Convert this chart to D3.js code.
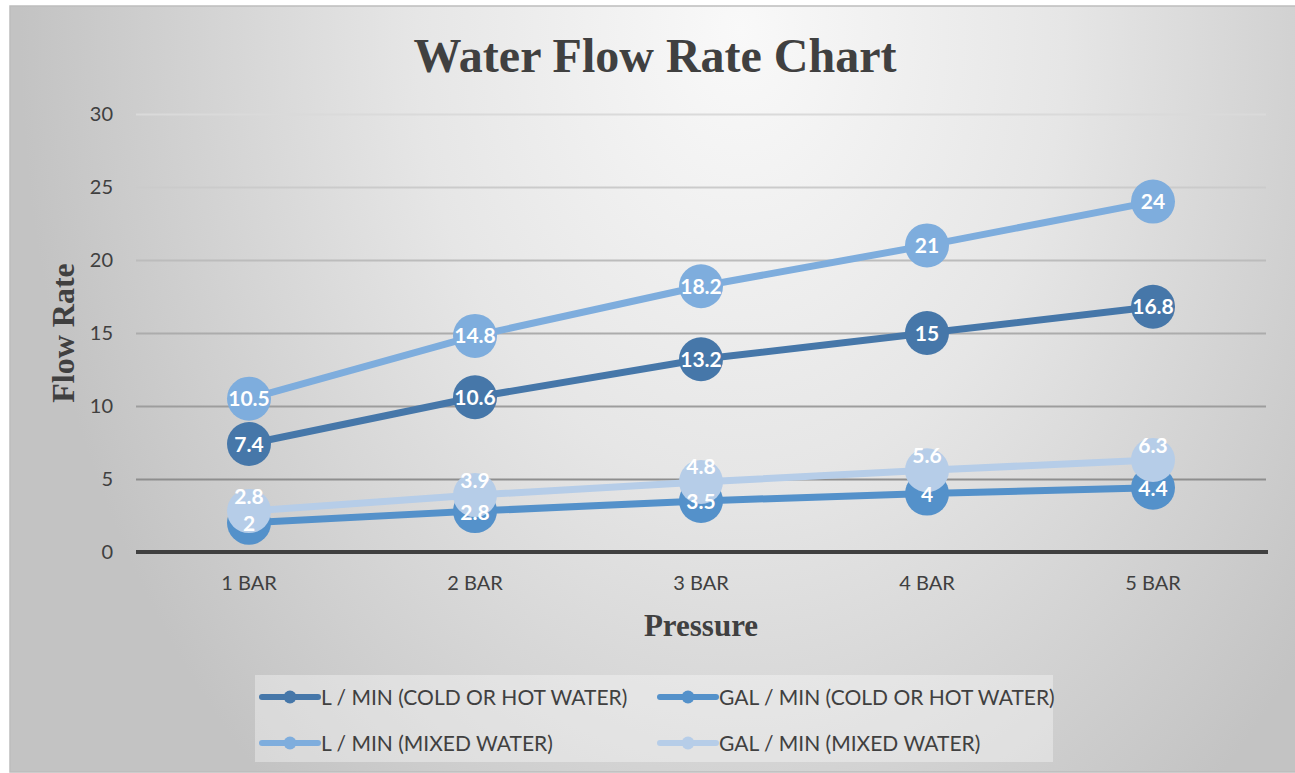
<!DOCTYPE html>
<html>
<head>
<meta charset="utf-8">
<script src="https://cdn.jsdelivr.net/npm/d3@7"></script>
<style>
    body { margin: 0; background: #ffffff; }
</style>
</head>
<body>
<div id="canvas"></div>
<script>
"use strict"

/* chart values */
const pressures = ["1 BAR", "2 BAR", "3 BAR", "4 BAR", "5 BAR"];
const lMinHot = [7.4, 10.6, 13.2, 15, 16.8];
const galMinHot = [2, 2.8, 3.5, 4, 4.4];
const lMinMixed = [10.5, 14.8, 18.2, 21, 24];
const galMinMixed = [2.8, 3.9, 4.8, 5.6, 6.3];
const seriesNames = ["L / MIN (COLD OR HOT WATER)", "GAL / MIN (COLD OR HOT WATER)",
    "L / MIN (MIXED WATER)", "GAL / MIN (MIXED WATER)"];
const yTicks = [0, 5, 10, 15, 20, 25, 30];

/* one entry per line, drawing order matters (last one on top) */
let series = [
    {name: seriesNames[0], values: lMinHot, color: "#4677a9", labelShift: 0},
    {name: seriesNames[1], values: galMinHot, color: "#5491ca", labelShift: 1},
    {name: seriesNames[2], values: lMinMixed, color: "#7eaddd", labelShift: 0},
    {name: seriesNames[3], values: galMinMixed, color: "#b6cde8", labelShift: -15}
];

let drawing = d3.select("#canvas")
    .append("svg")
    .attr("width", 1295)
    .attr("height", 773);

/* background gradient */
let defs = drawing.append("defs");
let bgGrad = defs.append("radialGradient")
    .attr("id", "bgGrad")
    .attr("gradientUnits", "userSpaceOnUse")
    .attr("cx", 0).attr("cy", 0).attr("r", 1)
    .attr("gradientTransform", "translate(740,30) scale(720,1000)");
bgGrad.append("stop").attr("offset", "0").attr("stop-color", "#f9f9f9");
bgGrad.append("stop").attr("offset", "0.45").attr("stop-color", "#e6e6e6");
bgGrad.append("stop").attr("offset", "1").attr("stop-color", "#c3c3c3");

let chartBox = drawing.append("rect")
    .attr("x", 10)
    .attr("y", 6)
    .attr("width", 1290)
    .attr("height", 766)
    .attr("fill", "url(#bgGrad)")
    .attr("stroke", "#bdbdbd")
    .attr("stroke-width", 1.5);

/* scales */
let x = d3.scaleBand()
    .domain(pressures)
    .range([136, 1266]);

let y = d3.scaleLinear()
    .domain([0, 30])
    .range([552, 114]);

let gridColor = d3.scaleLinear()
    .domain([30, 5])
    .range(["#dadada", "#8e8e8e"]);

/* y axis with gridlines */
let yAxis = drawing.append("g")
    .attr("transform", "translate(136,0)")
    .call(d3.axisLeft(y).tickValues(yTicks).tickSize(-(1266 - 136)).tickPadding(23));
yAxis.select(".domain").remove();
yAxis.selectAll(".tick line")
    .attr("stroke", d => d === 0 ? "none" : gridColor(d))
    .attr("stroke-width", 2);
yAxis.selectAll(".tick text")
    .attr("fill", "#404040")
    .style("font-family", "Lato, 'Open Sans', sans-serif")
    .style("font-size", "20px");

/* x axis labels */
let xAxis = drawing.append("g")
    .attr("transform", "translate(0,552)")
    .call(d3.axisBottom(x).tickSize(0).tickPadding(24));
xAxis.select(".domain").remove();
xAxis.selectAll(".tick text")
    .attr("fill", "#404040")
    .style("font-family", "Lato, 'Open Sans', sans-serif")
    .style("font-size", "20px");

/* zero line */
let zeroLine = drawing.append("line")
    .attr("x1", 136)
    .attr("x2", 1268)
    .attr("y1", y(0))
    .attr("y2", y(0))
    .attr("stroke", "#404040")
    .attr("stroke-width", 4);

/* lines and markers */
let xMid = d => x(d) + x.bandwidth() / 2;
let lineMaker = d3.line()
    .x((d, i) => xMid(pressures[i]))
    .y(d => y(d));

series.forEach(s => {
    drawing.append("path")
        .attr("d", lineMaker(s.values))
        .attr("fill", "none")
        .attr("stroke", s.color)
        .attr("stroke-width", 7)
        .attr("stroke-linejoin", "round");

    drawing.append("g")
        .selectAll("circle")
        .data(s.values)
        .join("circle")
        .attr("cx", (d, i) => xMid(pressures[i]))
        .attr("cy", d => y(d))
        .attr("r", 22)
        .attr("fill", s.color);
});

/* data labels on top of everything */
series.forEach(s => {
    drawing.append("g")
        .selectAll("text")
        .data(s.values)
        .join("text")
        .attr("x", (d, i) => xMid(pressures[i]))
        .attr("y", d => y(d) + s.labelShift)
        .attr("dy", "0.36em")
        .attr("text-anchor", "middle")
        .attr("fill", "#ffffff")
        .style("font-family", "Lato, 'Open Sans', sans-serif")
        .style("font-weight", "bold")
        .style("font-size", "21px")
        .text(d => d);
});

/* titles */
let chartTitle = drawing.append("text")
    .attr("x", 655)
    .attr("y", 72)
    .attr("text-anchor", "middle")
    .attr("fill", "#404040")
    .style("font-family", "'Liberation Serif', 'Times New Roman', serif")
    .style("font-weight", "bold")
    .style("font-size", "48px")
    .text("Water Flow Rate Chart");

let xTitle = drawing.append("text")
    .attr("x", 701)
    .attr("y", 636)
    .attr("text-anchor", "middle")
    .attr("fill", "#404040")
    .style("font-family", "'Liberation Serif', 'Times New Roman', serif")
    .style("font-weight", "bold")
    .style("font-size", "31px")
    .text("Pressure");

let yTitle = drawing.append("text")
    .attr("transform", "translate(74,333) rotate(-90)")
    .attr("text-anchor", "middle")
    .attr("fill", "#404040")
    .style("font-family", "'Liberation Serif', 'Times New Roman', serif")
    .style("font-weight", "bold")
    .style("font-size", "32px")
    .text("Flow Rate");

/* legend */
let legendBox = drawing.append("rect")
    .attr("x", 255)
    .attr("y", 675)
    .attr("width", 798)
    .attr("height", 87)
    .attr("fill", "#ffffff")
    .attr("fill-opacity", 0.35);

let legendSpots = [[262, 697], [660, 697], [262, 743], [660, 743]];

let legendItems = drawing.append("g")
    .selectAll("g")
    .data(series)
    .join("g")
    .attr("transform", (d, i) => "translate(" + legendSpots[i][0] + "," + legendSpots[i][1] + ")");

legendItems.append("line")
    .attr("x1", 0)
    .attr("x2", 56)
    .attr("stroke", d => d.color)
    .attr("stroke-width", 6)
    .attr("stroke-linecap", "round");

legendItems.append("circle")
    .attr("cx", 28)
    .attr("r", 6.5)
    .attr("fill", d => d.color);

legendItems.append("text")
    .attr("x", 59)
    .attr("dy", "0.36em")
    .attr("fill", "#404040")
    .style("font-family", "Lato, 'Open Sans', sans-serif")
    .style("font-size", "21px")
    .text(d => d.name);
</script>
</body>
</html>
